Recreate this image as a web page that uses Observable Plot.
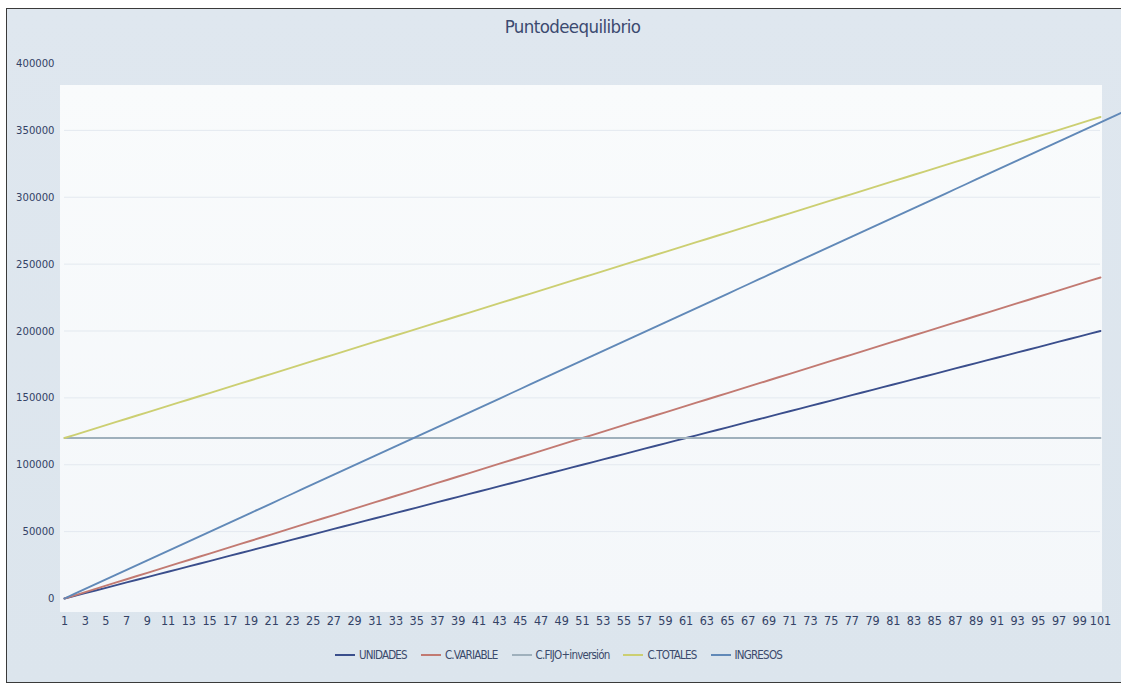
<!DOCTYPE html>
<html>
<head>
<meta charset="utf-8">
<script src="https://cdn.jsdelivr.net/npm/d3@7"></script>
<script src="https://cdn.jsdelivr.net/npm/@observablehq/plot@0.6"></script>
<style>
  html, body { margin: 0; padding: 0; background: #ffffff; }
  #wrap { position: relative; width: 1121px; height: 684px; overflow: hidden; }
  #frame { position: absolute; left: 6px; top: 8px; width: 1130px; height: 673px;
           border: 1.5px solid #3a3a3a; border-right: none;
           background: linear-gradient(#dfe7ef, #dce5ed); }
  #panel { position: absolute; left: 60px; top: 85px; width: 1042px; height: 527px;
           background: linear-gradient(#f9fbfc, #f4f7fa); }
  #title { position: absolute; left: 0; width: 1145px; top: 16px; text-align: center;
           font-family: "Liberation Sans Narrow", "DejaVu Sans Condensed", sans-serif;
           font-size: 18.5px; letter-spacing: -0.6px; color: #3b4a70; }
  #chart { position: absolute; left: 0; top: 0; }
  #legend { position: absolute; top: 648px; left: 335px; display: flex; align-items: center;
            font-family: "Liberation Sans Narrow", "DejaVu Sans Condensed", sans-serif;
            font-size: 11.5px; letter-spacing: -0.8px; color: #3b4a6b; white-space: nowrap; }
  .item { display: flex; align-items: center; margin-right: 14px; }
  .sw { width: 20px; height: 0; border-top: 2.5px solid; margin-right: 4px; }
</style>
</head>
<body>
<div id="wrap">
  <div id="frame"></div>
  <div id="panel"></div>
  <div id="title">Puntodeequilibrio</div>
  <div id="chart"></div>
  <div id="legend"></div>
</div>
<script>
const periodos = [1,2,3,4,5,6,7,8,9,10,11,12,13,14,15,16,17,18,19,20,21,22,23,24,25,26,27,28,29,30,
31,32,33,34,35,36,37,38,39,40,41,42,43,44,45,46,47,48,49,50,51,52,53,54,55,56,57,58,59,60,
61,62,63,64,65,66,67,68,69,70,71,72,73,74,75,76,77,78,79,80,81,82,83,84,85,86,87,88,89,90,
91,92,93,94,95,96,97,98,99,100,101,102,103];

const unidades = [0,2000,4000,6000,8000,10000,12000,14000,16000,18000,
20000,22000,24000,26000,28000,30000,32000,34000,36000,38000,
40000,42000,44000,46000,48000,50000,52000,54000,56000,58000,
60000,62000,64000,66000,68000,70000,72000,74000,76000,78000,
80000,82000,84000,86000,88000,90000,92000,94000,96000,98000,
100000,102000,104000,106000,108000,110000,112000,114000,116000,118000,
120000,122000,124000,126000,128000,130000,132000,134000,136000,138000,
140000,142000,144000,146000,148000,150000,152000,154000,156000,158000,
160000,162000,164000,166000,168000,170000,172000,174000,176000,178000,
180000,182000,184000,186000,188000,190000,192000,194000,196000,198000,
200000];

const cVariable = [0,2400,4800,7200,9600,12000,14400,16800,19200,21600,
24000,26400,28800,31200,33600,36000,38400,40800,43200,45600,
48000,50400,52800,55200,57600,60000,62400,64800,67200,69600,
72000,74400,76800,79200,81600,84000,86400,88800,91200,93600,
96000,98400,100800,103200,105600,108000,110400,112800,115200,117600,
120000,122400,124800,127200,129600,132000,134400,136800,139200,141600,
144000,146400,148800,151200,153600,156000,158400,160800,163200,165600,
168000,170400,172800,175200,177600,180000,182400,184800,187200,189600,
192000,194400,196800,199200,201600,204000,206400,208800,211200,213600,
216000,218400,220800,223200,225600,228000,230400,232800,235200,237600,
240000];

const cFijo = [120000,120000,120000,120000,120000,120000,120000,120000,120000,120000,
120000,120000,120000,120000,120000,120000,120000,120000,120000,120000,
120000,120000,120000,120000,120000,120000,120000,120000,120000,120000,
120000,120000,120000,120000,120000,120000,120000,120000,120000,120000,
120000,120000,120000,120000,120000,120000,120000,120000,120000,120000,
120000,120000,120000,120000,120000,120000,120000,120000,120000,120000,
120000,120000,120000,120000,120000,120000,120000,120000,120000,120000,
120000,120000,120000,120000,120000,120000,120000,120000,120000,120000,
120000,120000,120000,120000,120000,120000,120000,120000,120000,120000,
120000,120000,120000,120000,120000,120000,120000,120000,120000,120000,
120000];

const cTotales = [120000,122400,124800,127200,129600,132000,134400,136800,139200,141600,
144000,146400,148800,151200,153600,156000,158400,160800,163200,165600,
168000,170400,172800,175200,177600,180000,182400,184800,187200,189600,
192000,194400,196800,199200,201600,204000,206400,208800,211200,213600,
216000,218400,220800,223200,225600,228000,230400,232800,235200,237600,
240000,242400,244800,247200,249600,252000,254400,256800,259200,261600,
264000,266400,268800,271200,273600,276000,278400,280800,283200,285600,
288000,290400,292800,295200,297600,300000,302400,304800,307200,309600,
312000,314400,316800,319200,321600,324000,326400,328800,331200,333600,
336000,338400,340800,343200,345600,348000,350400,352800,355200,357600,
360000];

const ingresos = [0,3560,7120,10680,14240,17800,21360,24920,28480,32040,
35600,39160,42720,46280,49840,53400,56960,60520,64080,67640,
71200,74760,78320,81880,85440,89000,92560,96120,99680,103240,
106800,110360,113920,117480,121040,124600,128160,131720,135280,138840,
142400,145960,149520,153080,156640,160200,163760,167320,170880,174440,
178000,181560,185120,188680,192240,195800,199360,202920,206480,210040,
213600,217160,220720,224280,227840,231400,234960,238520,242080,245640,
249200,252760,256320,259880,263440,267000,270560,274120,277680,281240,
284800,288360,291920,295480,299040,302600,306160,309720,313280,316840,
320400,323960,327520,331080,334640,338200,341760,345320,348880,352440,
356000,359560,363120];

const seriesNames = ["UNIDADES", "C.VARIABLE", "C.FIJO+inversión", "C.TOTALES", "INGRESOS"];
const seriesColors = ["#3a4e8c", "#c27a72", "#9fb0bc", "#cccf72", "#6189b8"];

const xTickLabels = [1,3,5,7,9,11,13,15,17,19,21,23,25,27,29,31,33,35,37,39,41,43,45,47,49,
51,53,55,57,59,61,63,65,67,69,71,73,75,77,79,81,83,85,87,89,91,93,95,97,99,101];
const yTickLabels = [0,50000,100000,150000,200000,250000,300000,350000,400000];
const gridValues = [50000,100000,150000,200000,250000,300000,350000];

const seriesData = [unidades, cVariable, cFijo, cTotales, ingresos];
const table = [];
seriesData.forEach((vals, si) => {
  vals.forEach((v, i) => table.push({serie: seriesNames[si], periodo: periodos[i], valor: v}));
});

const chart = Plot.plot({
  width: 1121,
  height: 640,
  marginLeft: 64,
  marginRight: 21,
  marginTop: 63,
  marginBottom: 42,
  style: {
    background: "transparent",
    fontFamily: "'DejaVu Sans Condensed', 'DejaVu Sans', sans-serif",
    fontSize: "11px",
    color: "#334266",
    overflow: "visible"
  },
  x: { domain: [1, 101] },
  y: { domain: [0, 400000] },
  color: { domain: seriesNames, range: seriesColors },
  marks: [
    Plot.ruleY(gridValues, { stroke: "#e3e9ef", strokeWidth: 1 }),
    Plot.axisY(yTickLabels, { tickSize: 0, tickPadding: 10, tickFormat: d => String(d), label: null, fontSize: 11.2, letterSpacing: -0.3 }),
    Plot.axisX(xTickLabels, { tickSize: 0, tickPadding: 18, tickFormat: d => String(d), label: null, fontSize: 12.5, letterSpacing: -0.2 }),
    Plot.line(table, { x: "periodo", y: "valor", z: "serie", stroke: "serie", strokeWidth: 1.9, curve: "linear" })
  ]
});
document.getElementById("chart").appendChild(chart);

const legend = document.getElementById("legend");
seriesNames.forEach((name, i) => {
  const item = document.createElement("div");
  item.className = "item";
  const sw = document.createElement("div");
  sw.className = "sw";
  sw.style.borderTopColor = seriesColors[i];
  const tx = document.createElement("span");
  tx.textContent = name;
  item.appendChild(sw);
  item.appendChild(tx);
  legend.appendChild(item);
});
</script>
</body>
</html>
